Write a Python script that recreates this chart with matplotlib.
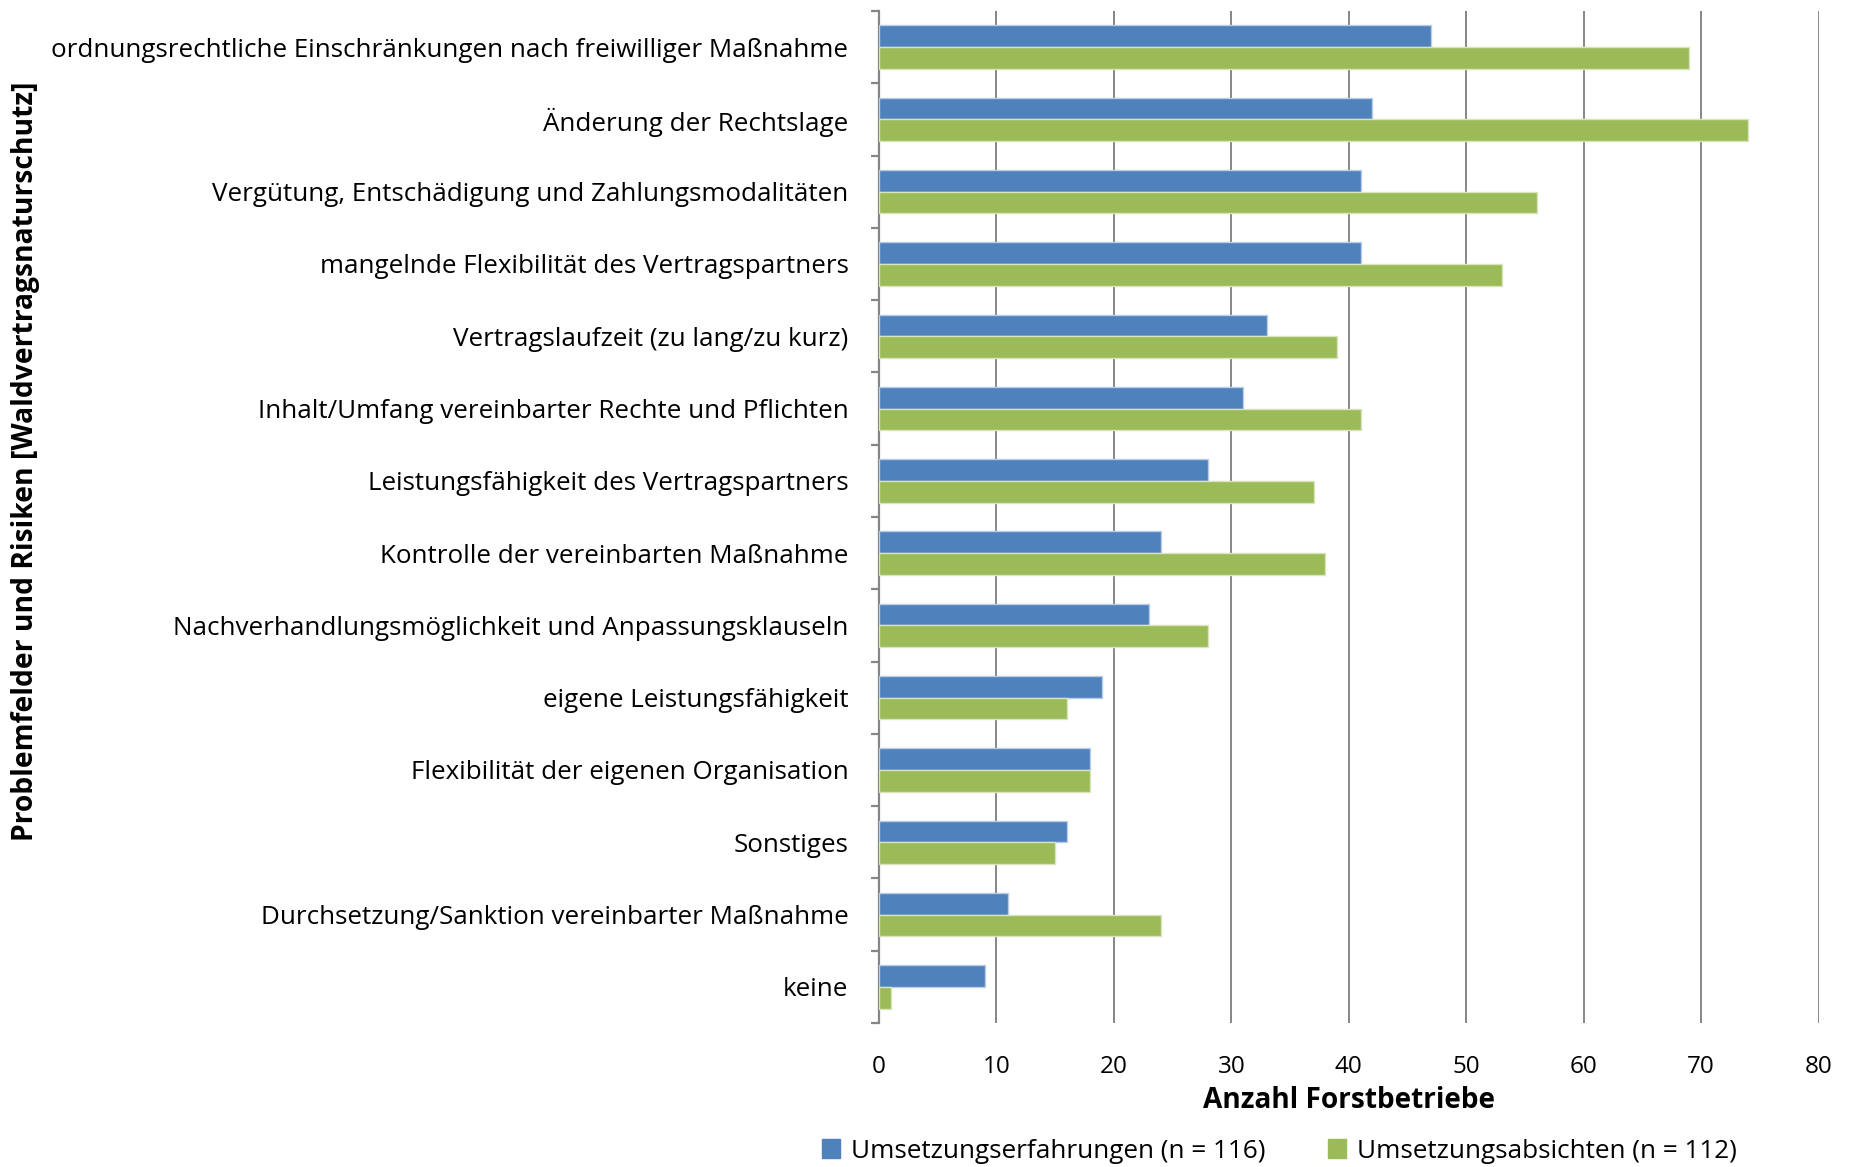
import matplotlib
matplotlib.use("Agg")
import matplotlib.pyplot as plt
from matplotlib.patches import Patch
import numpy as np

# ---------------- DATA ---------------- #
kategorien = [
    "ordnungsrechtliche Einschränkungen nach freiwilliger Maßnahme",
    "Änderung der Rechtslage",
    "Vergütung, Entschädigung und Zahlungsmodalitäten",
    "mangelnde Flexibilität des Vertragspartners",
    "Vertragslaufzeit (zu lang/zu kurz)",
    "Inhalt/Umfang vereinbarter Rechte und Pflichten",
    "Leistungsfähigkeit des Vertragspartners",
    "Kontrolle der vereinbarten Maßnahme",
    "Nachverhandlungsmöglichkeit und Anpassungsklauseln",
    "eigene Leistungsfähigkeit",
    "Flexibilität der eigenen Organisation",
    "Sonstiges",
    "Durchsetzung/Sanktion vereinbarter Maßnahme",
    "keine",
]
erfahrungen = [47, 42, 41, 41, 33, 31, 28, 24, 23, 19, 18, 16, 11, 9]
absichten = [69, 74, 56, 53, 39, 41, 37, 38, 28, 16, 18, 15, 24, 1]

label_erf = "Umsetzungserfahrungen (n = 116)"
label_abs = "Umsetzungsabsichten (n = 112)"
x_ticks = [0, 10, 20, 30, 40, 50, 60, 70, 80]

BLAU = "#4F81BD"
GRUEN = "#9BBB59"
FONT = "Open Sans"

# ---------------- PLOT ---------------- #
plt.rcParams["font.family"] = [FONT, "DejaVu Sans"]

fig = plt.figure(figsize=(18.52, 11.67), dpi=100)
ax = fig.add_axes([0.4746, 0.1234, 0.5074, 0.8672])

y = np.arange(len(kategorien))
h = 0.3
ax.barh(y - h / 2, erfahrungen, height=h, color=BLAU, edgecolor="#B9CDE5",
        linewidth=1, zorder=3)
ax.barh(y + h / 2, absichten, height=h, color=GRUEN, edgecolor="#D7E4BD",
        linewidth=1, zorder=3)

ax.set_xlim(0, 80)
ax.set_ylim(len(kategorien) - 0.5, -0.5)
ax.set_xticks(x_ticks)
ax.xaxis.grid(True, color="#868686", linewidth=1.4, zorder=0)
ax.tick_params(axis="x", length=0, labelsize=17.5, pad=23)

ax.set_yticks(y)
ax.set_yticklabels(kategorien, fontsize=18.7)
ax.tick_params(axis="y", which="major", length=0, pad=22)
ax.set_yticks(np.arange(-0.5, len(kategorien)), minor=True)
ax.tick_params(axis="y", which="minor", length=6, width=1.6, color="#868686")

for s in ["top", "right", "bottom"]:
    ax.spines[s].set_visible(False)
ax.spines["left"].set_color("#868686")
ax.spines["left"].set_linewidth(1.6)

ax.set_xlabel("Anzahl Forstbetriebe", fontsize=20.2, fontweight="bold", labelpad=5)
fig.text(0.014, 0.605, "Problemfelder und Risiken [Waldvertragsnaturschutz]",
         rotation=90, fontsize=20.3, fontweight="bold", ha="center", va="center")

handles = [Patch(facecolor=BLAU, edgecolor=BLAU), Patch(facecolor=GRUEN, edgecolor=GRUEN)]
fig.legend(handles, [label_erf, label_abs], loc="center", ncol=2,
           bbox_to_anchor=(0.6907, 0.0137), frameon=False, fontsize=18.8,
           handlelength=0.7, handleheight=0.7, handletextpad=0.4, columnspacing=2.4)

fig.savefig("out.png", dpi=100)
